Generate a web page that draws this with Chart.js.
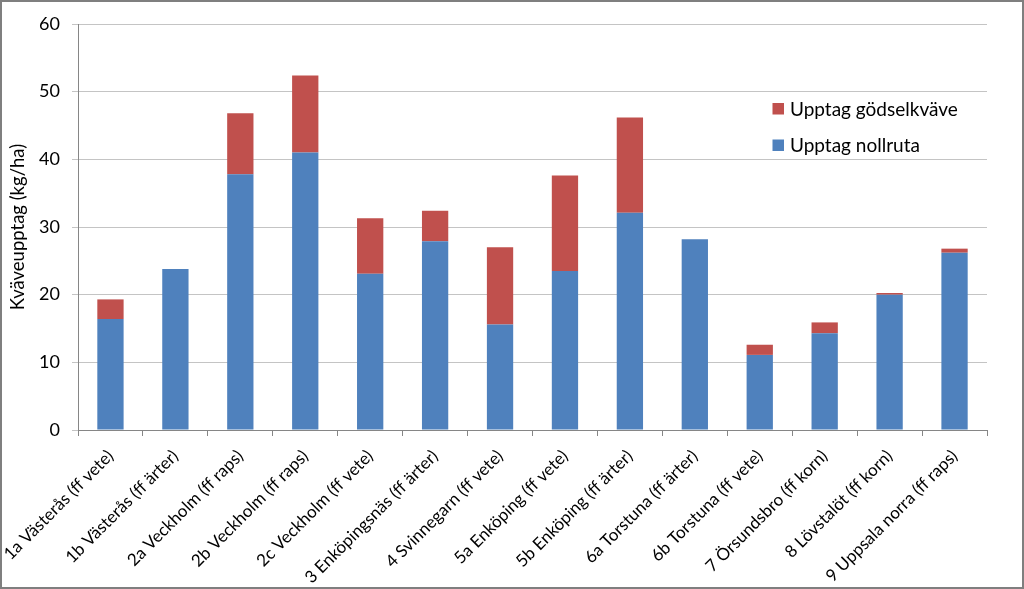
<!DOCTYPE html>
<html><head><meta charset="utf-8">
<script src="https://cdn.jsdelivr.net/npm/chart.js@4.4.1/dist/chart.umd.min.js"></script>
<style>html,body{margin:0;padding:0;background:#fff}#wrap{width:1024px;height:589px;position:relative}</style>
</head><body><div id="wrap"><canvas id="c" width="1024" height="589"></canvas></div>
<script>
const categories = ["1a Västerås (ff vete)","1b Västerås (ff ärter)","2a Veckholm (ff raps)","2b Veckholm (ff raps)","2c Veckholm (ff vete)","3 Enköpingsnäs (ff ärter)","4 Svinnegarn (ff vete)","5a Enköping (ff vete)","5b Enköping (ff ärter)","6a Torstuna (ff ärter)","6b Torstuna (ff vete)","7 Örsundsbro (ff korn)","8 Lövstalöt (ff korn)","9 Uppsala norra (ff raps)"];
const upptagNollruta = [16.4,23.8,37.8,41.0,23.1,27.9,15.6,23.5,32.1,28.2,11.1,14.3,20.0,26.2];
const upptagGodselkvave = [2.9,0,9.0,11.4,8.2,4.5,11.4,14.1,14.1,0,1.5,1.6,0.25,0.6];
const yTicks = [0,10,20,30,40,50,60];
const yTitle = 'Kväveupptag (kg/ha)';
const FONT = "Lato, 'Open Sans', sans-serif";

const legendPlugin = {
  id:'insideLegend',
  afterDraw(chart){
    const ctx = chart.ctx;
    const items = [
      {label: chart.data.datasets[1].label, color: chart.data.datasets[1].backgroundColor, y:108.5},
      {label: chart.data.datasets[0].label, color: chart.data.datasets[0].backgroundColor, y:145}
    ];
    ctx.save();
    ctx.font = "19px " + FONT;
    ctx.textBaseline = 'middle';
    items.forEach(it=>{
      ctx.fillStyle = it.color;
      ctx.fillRect(772.5, it.y-5.5, 11.5, 11.5);
      ctx.fillStyle = '#000';
      ctx.fillText(it.label, 790, it.y+1);
    });
    ctx.restore();
  }
};
const titlePlugin = {
  id:'yTitle',
  afterDraw(chart){
    const ctx = chart.ctx;
    const a = chart.chartArea;
    ctx.save();
    ctx.translate(18, (a.top + a.bottom)/2);
    ctx.rotate(-Math.PI/2);
    ctx.font = "18.5px " + FONT;
    ctx.fillStyle = '#000';
    ctx.textAlign = 'center';
    ctx.textBaseline = 'middle';
    ctx.fillText(yTitle, 0, 0);
    ctx.restore();
  }
};
const borderPlugin = {
  id:'outerBorder',
  afterDraw(chart){
    const ctx = chart.ctx;
    ctx.save();
    ctx.strokeStyle = '#7f7f7f';
    ctx.lineWidth = 2;
    ctx.strokeRect(1,1,1022,587);
    ctx.restore();
  }
};

new Chart(document.getElementById('c'), {
  type:'bar',
  data:{
    labels: categories,
    datasets:[
      {label:'Upptag nollruta', data: upptagNollruta, backgroundColor:'#4F81BD', barPercentage:0.405, categoryPercentage:1},
      {label:'Upptag gödselkväve', data: upptagGodselkvave, backgroundColor:'#C0504D', barPercentage:0.405, categoryPercentage:1}
    ]
  },
  options:{
    responsive:false, animation:false,
    layout:{padding:{top:24,right:37,left:0,bottom:0}},
    plugins:{legend:{display:false}, tooltip:{enabled:false}},
    scales:{
      x:{
        stacked:true,
        afterFit(s){ s.height = 159; s.paddingLeft = 0; s.paddingRight = 0; },
        grid:{display:true, drawOnChartArea:false, drawTicks:true, tickLength:6, color:'#868686', offset:true},
        border:{display:true, color:'#868686', width:1},
        ticks:{autoSkip:false, maxRotation:45, minRotation:45, color:'#000', font:{family:FONT, size:17}, padding:10}
      },
      y:{
        stacked:true, min:0, max:60,
        afterFit(s){ s.width = 78; s.paddingTop = 0; s.paddingBottom = 0; },
        afterBuildTicks(s){ s.ticks = yTicks.map(v=>({value:v})); },
        grid:{color:'#c4c4c4', tickLength:6, drawTicks:true},
        border:{display:true, color:'#868686', width:1},
        ticks:{color:'#000', font:{family:FONT, size:18}, padding:12},
        title:{display:false}
      }
    }
  },
  plugins:[legendPlugin, titlePlugin, borderPlugin]
});
</script></body></html>
